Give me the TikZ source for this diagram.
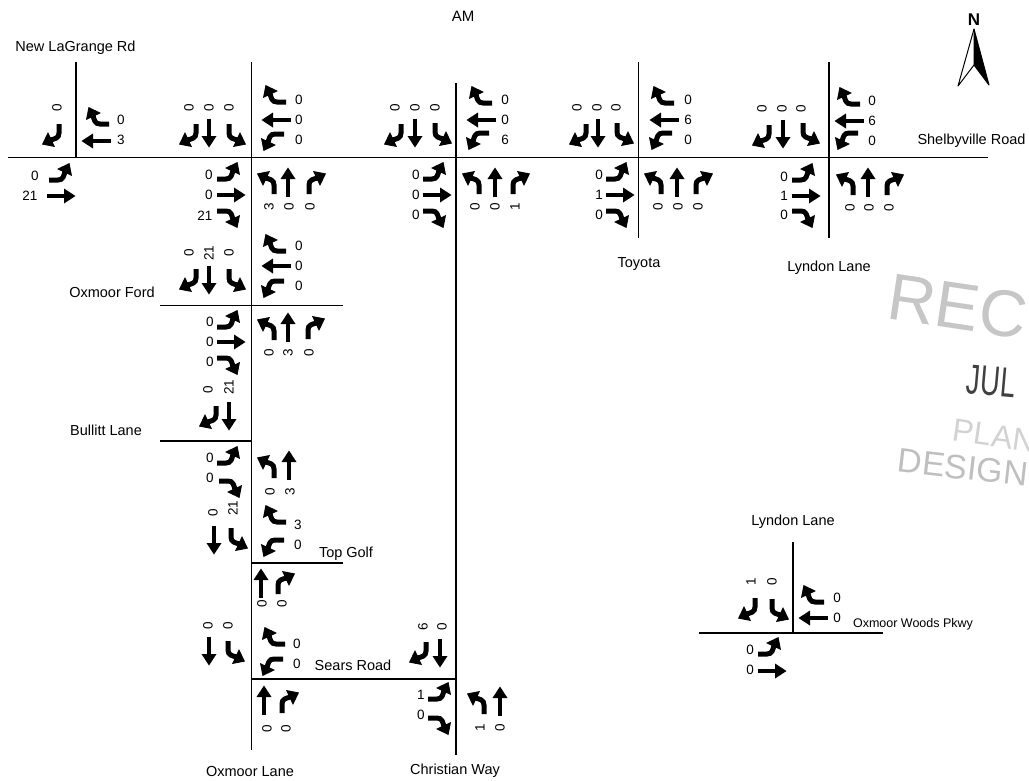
\documentclass[tikz,border=0pt]{standalone}
\usepackage{fontspec}
\setmainfont{Liberation Sans}
\tikzset{
	road/.style={black,line width=1.5pt},
	cnt/.style={inner sep=0pt,font=\fontsize{13.5}{15}\selectfont},
	cntv/.style={cnt,rotate=90},
	street/.style={inner sep=0pt,font=\fontsize{14.5}{17}\selectfont},
	stamp/.style={inner sep=0pt,anchor=west},
	rgt/.pic={
		\draw [black,line width=5pt] (-6,-11) -- (-6,-2) .. controls (-6,3) and (-2,4) .. (3,5);
		\fill [black] (11,9.5) -- (-2,12) -- (5,-3) -- cycle;
	},
	lft/.pic={
		\draw [black,line width=5pt] (6,-11) -- (6,-2) .. controls (6,3) and (2,4) .. (-3,5);
		\fill [black] (-11,9.5) -- (2,12) -- (-5,-3) -- cycle;
	},
	thru/.pic={
		\draw [black,line width=3.6pt] (0,-14.5) -- (0,5);
		\fill [black] (0,14.5) -- (-7.5,3) -- (7.5,3) -- cycle;
	}
}
\begin{document}
\begin{tikzpicture}[x=1pt,y=1pt]
	\useasboundingbox (0,0) rectangle (1029,-780);

	\draw [road] (8,-157.5) -- (988,-157.5);
	\draw [road] (76,-62) -- (76,-157.5);
	\draw [road] (251.5,-62) -- (251.5,-750);
	\draw [road] (456,-83) -- (456,-755);
	\draw [road] (638.5,-62) -- (638.5,-238);
	\draw [road] (829,-62) -- (829,-238);
	\draw [road] (160,-305.5) -- (343,-305.5);
	\draw [road] (160,-441) -- (251.5,-441);
	\draw [road] (251.5,-563) -- (343,-563);
	\draw [road] (251.5,-679) -- (456,-679);
	\draw [road] (793,-542) -- (793,-633);
	\draw [road] (699,-633) -- (883,-633);

	\node [inner sep=0pt,font=\fontsize{15}{17}\selectfont] (am) at (463,-16) {AM};
	\node [street] (lagrange) at (75.5,-48) {New LaGrange Rd};
	\node [street] (shelbyville) at (971.5,-141) {Shelbyville Road};
	\node [street] (ford) at (112,-292) {Oxmoor Ford};
	\node [street] (bullitt) at (106,-430) {Bullitt Lane};
	\node [street] (topgolf) at (346,-554) {Top Golf};
	\node [street] (sears) at (353,-665) {Sears Road};
	\node [street] (oxlane) at (250,-771) {Oxmoor Lane};
	\node [street] (christian) at (455,-771) {Christian Way};
	\node [street] (toyota) at (639,-264) {Toyota};
	\node [street] (lyndon) at (829,-268) {Lyndon Lane};
	\node [street] (lyndonb) at (793,-522) {Lyndon Lane};
	\node [street,font=\fontsize{12.5}{15}\selectfont] (woods) at (913,-624) {Oxmoor Woods Pkwy};

	\node [inner sep=0pt,font=\fontsize{17}{19}\selectfont\bfseries] (north) at (974,-20) {N};
	\draw [black,line width=1pt,line join=round] (974,-29) -- (958,-86) -- (974,-65);
	\fill [black,draw=black,line width=1pt,line join=round] (974,-29) -- (989,-85) -- (974,-65) -- cycle;

	\node [stamp,rotate=-8.5,gray!45,font=\fontsize{66}{70}\selectfont] (rec) at (889,-296) {REC};
	\node [stamp,rotate=-5,black!75,xscale=0.65,font=\fontsize{42}{44}\selectfont] (jul) at (967,-379) {JUL};
	\node [stamp,rotate=-8,gray!35,font=\fontsize{32}{34}\selectfont] (plan) at (953,-430) {PLAN};
	\node [stamp,rotate=-6.5,gray!50,font=\fontsize{34}{36}\selectfont] (design) at (898,-460) {DESIGN};

	\pic [rotate=180] at (53,-135) {rgt};
	\pic [rotate=90] at (98,-118) {rgt};
	\pic [rotate=90] at (96,-141) {thru};
	\pic [rotate=270] at (60,-174) {lft};
	\pic [rotate=270] at (61,-196) {thru};
	\node [cntv] (a1) at (57,-108) {0};
	\node [cnt] (a2) at (121,-120) {0};
	\node [cnt] (a3) at (121,-140) {3};
	\node [cnt] (a4) at (35,-176) {0};
	\node [cnt] (a5) at (30,-196) {21};

	\pic [rotate=180] at (190,-135) {rgt};
	\pic [rotate=180] at (209,-133) {thru};
	\pic [rotate=180] at (235,-135) {lft};
	\pic [rotate=90] at (275,-96) {rgt};
	\pic [rotate=90] at (276,-120) {thru};
	\pic [rotate=90] at (273,-140) {lft};
	\pic [rotate=270] at (228,-173) {lft};
	\pic [rotate=270] at (231,-195) {thru};
	\pic [rotate=270] at (228,-217) {rgt};
	\pic at (268,-183) {lft};
	\pic at (288,-182) {thru};
	\pic at (315,-183) {rgt};
	\node [cntv] (b1) at (189,-108) {0};
	\node [cntv] (b2) at (209,-108) {0};
	\node [cntv] (b3) at (229,-108) {0};
	\node [cnt] (b4) at (299,-100) {0};
	\node [cnt] (b5) at (299,-120) {0};
	\node [cnt] (b6) at (299,-140) {0};
	\node [cnt] (b7) at (209,-175) {0};
	\node [cnt] (b8) at (209,-195) {0};
	\node [cnt] (b9) at (205,-216) {21};
	\node [cntv] (b10) at (269,-207) {3};
	\node [cntv] (b11) at (289,-207) {0};
	\node [cntv] (b12) at (310,-207) {0};

	\pic [rotate=180] at (395,-135) {rgt};
	\pic [rotate=180] at (415,-133) {thru};
	\pic [rotate=180] at (441,-134) {lft};
	\pic [rotate=90] at (481,-97) {rgt};
	\pic [rotate=90] at (481,-120) {thru};
	\pic [rotate=90] at (478,-139) {lft};
	\pic [rotate=270] at (434,-173) {lft};
	\pic [rotate=270] at (437,-195) {thru};
	\pic [rotate=270] at (434,-217) {rgt};
	\pic at (473,-183) {lft};
	\pic at (495,-182) {thru};
	\pic at (519,-183) {rgt};
	\node [cntv] (c1) at (395,-108) {0};
	\node [cntv] (c2) at (415,-108) {0};
	\node [cntv] (c3) at (435,-108) {0};
	\node [cnt] (c4) at (505,-100) {0};
	\node [cnt] (c5) at (505,-120) {0};
	\node [cnt] (c6) at (505,-140) {6};
	\node [cnt] (c7) at (416,-175) {0};
	\node [cnt] (c8) at (416,-195) {0};
	\node [cnt] (c9) at (416,-215) {0};
	\node [cntv] (c10) at (475,-207) {0};
	\node [cntv] (c11) at (495,-207) {0};
	\node [cntv] (c12) at (515,-207) {1};

	\pic [rotate=180] at (580,-135) {rgt};
	\pic [rotate=180] at (598,-133) {thru};
	\pic [rotate=180] at (623,-134) {lft};
	\pic [rotate=90] at (663,-97) {rgt};
	\pic [rotate=90] at (664,-120) {thru};
	\pic [rotate=90] at (661,-139) {lft};
	\pic [rotate=270] at (617,-173) {lft};
	\pic [rotate=270] at (620,-195) {thru};
	\pic [rotate=270] at (617,-217) {rgt};
	\pic at (655,-183) {lft};
	\pic at (677,-182) {thru};
	\pic at (702,-183) {rgt};
	\node [cntv] (d1) at (577,-108) {0};
	\node [cntv] (d2) at (597,-108) {0};
	\node [cntv] (d3) at (616,-108) {0};
	\node [cnt] (d4) at (688,-100) {0};
	\node [cnt] (d5) at (688,-120) {6};
	\node [cnt] (d6) at (688,-140) {0};
	\node [cnt] (d7) at (599,-175) {0};
	\node [cnt] (d8) at (599,-195) {1};
	\node [cnt] (d9) at (599,-215) {0};
	\node [cntv] (d10) at (658,-207) {0};
	\node [cntv] (d11) at (678,-207) {0};
	\node [cntv] (d12) at (698,-207) {0};

	\pic [rotate=180] at (763,-136) {rgt};
	\pic [rotate=180] at (783,-134) {thru};
	\pic [rotate=180] at (809,-134) {lft};
	\pic [rotate=90] at (849,-98) {rgt};
	\pic [rotate=90] at (849,-121) {thru};
	\pic [rotate=90] at (847,-139) {lft};
	\pic [rotate=270] at (803,-174) {lft};
	\pic [rotate=270] at (806,-196) {thru};
	\pic [rotate=270] at (803,-217) {rgt};
	\pic at (847,-184) {lft};
	\pic at (868,-182) {thru};
	\pic at (893,-184) {rgt};
	\node [cntv] (e1) at (762,-109) {0};
	\node [cntv] (e2) at (782,-109) {0};
	\node [cntv] (e3) at (801,-109) {0};
	\node [cnt] (e4) at (872,-101) {0};
	\node [cnt] (e5) at (872,-121) {6};
	\node [cnt] (e6) at (872,-141) {0};
	\node [cnt] (e7) at (784,-177) {0};
	\node [cnt] (e8) at (784,-196) {1};
	\node [cnt] (e9) at (784,-215) {0};
	\node [cntv] (e10) at (850,-208) {0};
	\node [cntv] (e11) at (869,-208) {0};
	\node [cntv] (e12) at (889,-208) {0};

	\pic [rotate=180] at (190,-280) {rgt};
	\pic [rotate=180] at (209,-280) {thru};
	\pic [rotate=180] at (235,-280) {lft};
	\pic [rotate=90] at (275,-245) {rgt};
	\pic [rotate=90] at (276,-266) {thru};
	\pic [rotate=90] at (273,-287) {lft};
	\pic [rotate=270] at (228,-321) {lft};
	\pic [rotate=270] at (231,-342) {thru};
	\pic [rotate=270] at (228,-364) {rgt};
	\pic at (268,-329) {lft};
	\pic at (288,-327) {thru};
	\pic at (314,-328) {rgt};
	\node [cntv] (f1) at (189,-253) {0};
	\node [cntv] (f2) at (209,-253) {21};
	\node [cntv] (f3) at (229,-253) {0};
	\node [cnt] (f4) at (299,-246) {0};
	\node [cnt] (f5) at (299,-266) {0};
	\node [cnt] (f6) at (299,-286) {0};
	\node [cnt] (f7) at (210,-322) {0};
	\node [cnt] (f8) at (210,-342) {0};
	\node [cnt] (f9) at (210,-362) {0};
	\node [cntv] (f10) at (269,-353) {0};
	\node [cntv] (f11) at (288,-353) {3};
	\node [cntv] (f12) at (309,-353) {0};

	\pic [rotate=180] at (210,-417) {rgt};
	\pic [rotate=180] at (229,-416) {thru};
	\node [cntv] (g1) at (208,-390) {0};
	\node [cntv] (g2) at (229,-387) {21};

	\pic [rotate=270] at (228,-457) {lft};
	\pic [rotate=270] at (230,-487) {rgt};
	\pic at (268,-467) {lft};
	\pic at (289,-465) {thru};
	\node [cnt] (h1) at (210,-458) {0};
	\node [cnt] (h2) at (210,-478) {0};
	\node [cntv] (h3) at (270,-492) {0};
	\node [cntv] (h4) at (290,-492) {3};

	\pic [rotate=180] at (214,-540) {thru};
	\pic [rotate=180] at (237,-539) {lft};
	\pic [rotate=90] at (275,-516) {rgt};
	\pic [rotate=90] at (273,-546) {lft};
	\pic at (261,-583) {thru};
	\pic at (284,-583) {rgt};
	\node [cntv] (i1) at (213,-513) {0};
	\node [cntv] (i2) at (233,-508) {21};
	\node [cnt] (i3) at (298,-525) {3};
	\node [cnt] (i4) at (298,-545) {0};
	\node [cntv] (i5) at (262,-604) {0};
	\node [cntv] (i6) at (282,-604) {0};

	\pic [rotate=180] at (209,-651) {thru};
	\pic [rotate=180] at (234,-652) {lft};
	\pic [rotate=90] at (274,-638) {rgt};
	\pic [rotate=90] at (272,-665) {lft};
	\pic at (264,-700) {thru};
	\pic at (288,-702) {rgt};
	\node [cntv] (j1) at (208,-626) {0};
	\node [cntv] (j2) at (228,-626) {0};
	\node [cnt] (j3) at (297,-644) {0};
	\node [cnt] (j4) at (297,-664) {0};
	\node [cntv] (j5) at (267,-729) {0};
	\node [cntv] (j6) at (286,-729) {0};

	\pic [rotate=180] at (420,-653) {rgt};
	\pic [rotate=180] at (440,-653) {thru};
	\pic [rotate=270] at (439,-693) {lft};
	\pic [rotate=270] at (439,-724) {rgt};
	\pic at (478,-703) {lft};
	\pic at (500,-701) {thru};
	\node [cntv] (k1) at (423,-627) {6};
	\node [cntv] (k2) at (442,-627) {0};
	\node [cnt] (k3) at (421,-695) {1};
	\node [cnt] (k4) at (421,-715) {0};
	\node [cntv] (k5) at (480,-728) {1};
	\node [cntv] (k6) at (500,-728) {0};

	\pic [rotate=180] at (749,-609) {rgt};
	\pic [rotate=180] at (778,-610) {lft};
	\pic [rotate=90] at (813,-596) {rgt};
	\pic [rotate=90] at (813,-618) {thru};
	\pic [rotate=270] at (769,-648) {lft};
	\pic [rotate=270] at (772,-671) {thru};
	\node [cntv] (m1) at (751,-582) {1};
	\node [cntv] (m2) at (772,-582) {0};
	\node [cnt] (m3) at (837,-598) {0};
	\node [cnt] (m4) at (837,-618) {0};
	\node [cnt] (m5) at (750,-650) {0};
	\node [cnt] (m6) at (750,-670) {0};
\end{tikzpicture}
\end{document}
